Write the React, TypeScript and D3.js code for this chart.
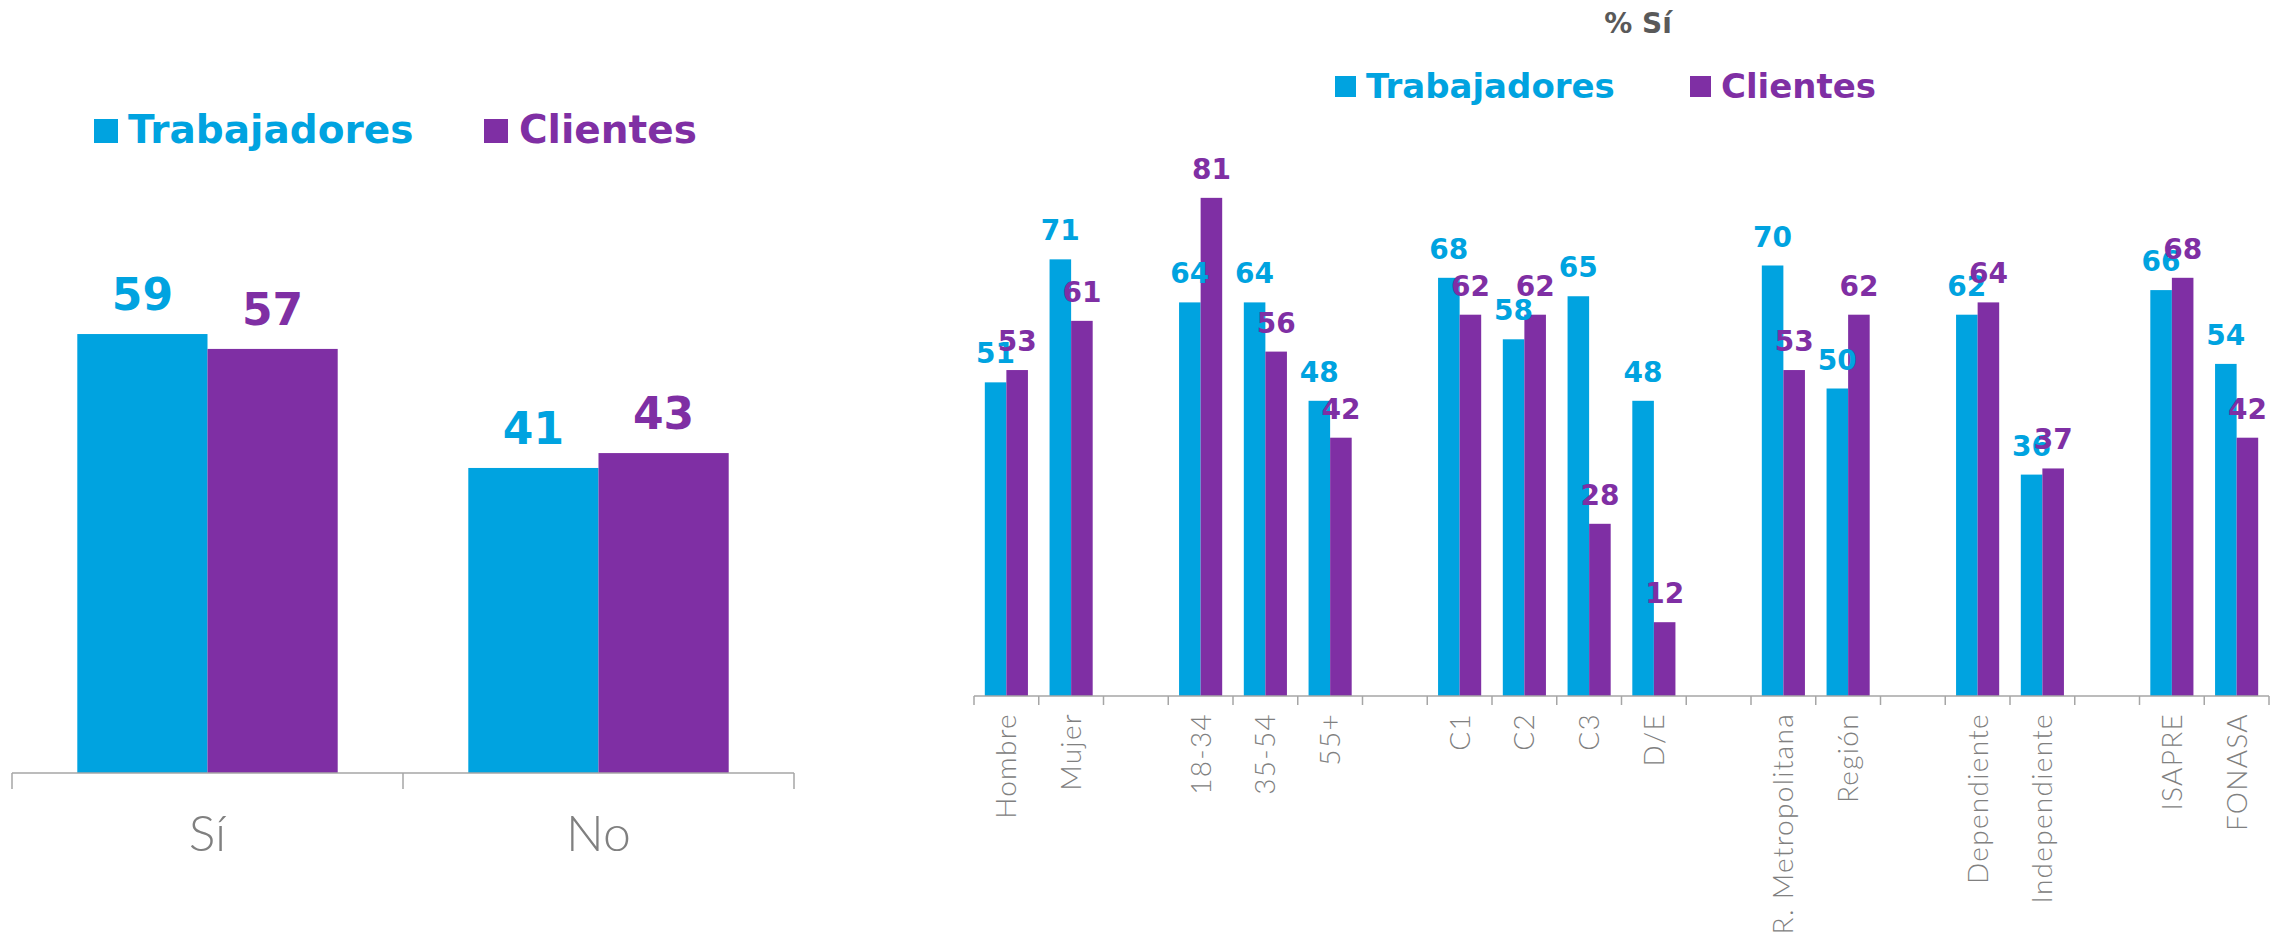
import React from "react";
import * as d3 from "d3";

const seriesNames = ["Trabajadores", "Clientes"];
const seriesColors = ["#00A3E0", "#7F2FA4"];

const leftCategories = ["Sí", "No"];
const leftTrabajadores = [59, 41];
const leftClientes = [57, 43];

const rightCategories = [
  "Hombre", "Mujer", "", "18-34", "35-54", "55+", "", "C1", "C2", "C3", "D/E", "",
  "R. Metropolitana", "Región", "", "Dependiente", "Independiente", "", "ISAPRE", "FONASA",
];
const rightTrabajadores = [51, 71, null, 64, 64, 48, null, 68, 58, 65, 48, null, 70, 50, null, 62, 36, null, 66, 54];
const rightClientes = [53, 61, null, 81, 56, 42, null, 62, 62, 28, 12, null, 53, 62, null, 64, 37, null, 68, 42];

const BOLD = "'DejaVu Sans', 'Open Sans', sans-serif";
const LIGHT = "Lato, 'Open Sans', sans-serif";
const AXIS = "#a6a6a6";
const LABEL_GRAY = "#808080";

function LeftChart() {
  const x = d3.scaleBand<number>().domain(d3.range(leftCategories.length)).range([12, 794]).padding(0);
  const x1 = d3.scaleBand<number>().domain([0, 1]).range([x.bandwidth() * 0.167, x.bandwidth() * 0.833]);
  const y = d3.scaleLinear().domain([0, 100]).range([773, 29]);
  const series = [leftTrabajadores, leftClientes];
  return (
    <g>
      <rect x={94} y={119} width={24} height={24} fill={seriesColors[0]} />
      <text x={128} y={143} fontFamily={BOLD} fontWeight="bold" fontSize={39} fill={seriesColors[0]}>{seriesNames[0]}</text>
      <rect x={484} y={119} width={24} height={24} fill={seriesColors[1]} />
      <text x={519} y={143} fontFamily={BOLD} fontWeight="bold" fontSize={39} fill={seriesColors[1]}>{seriesNames[1]}</text>
      {leftCategories.map((c, i) => (
        <g key={c}>
          {series.map((s, k) => {
            const bx = x(i)! + x1(k)!;
            return (
              <g key={k}>
                <rect x={bx} y={y(s[i])} width={x1.bandwidth()} height={y(0) - y(s[i])} fill={seriesColors[k]} />
                <text x={bx + x1.bandwidth() / 2} y={y(s[i]) - 24} textAnchor="middle" fontFamily={BOLD} fontWeight="bold" fontSize={44} fill={seriesColors[k]}>{s[i]}</text>
              </g>
            );
          })}
          <text x={x(i)! + x.bandwidth() / 2} y={851} textAnchor="middle" fontFamily={LIGHT} fontWeight={300} fontSize={50} fill={LABEL_GRAY}>{c}</text>
        </g>
      ))}
      <line x1={x.range()[0]} x2={x.range()[1]} y1={y(0)} y2={y(0)} stroke={AXIS} strokeWidth={1.5} />
      {d3.range(leftCategories.length + 1).map((i) => {
        const tx = x.range()[0] + i * x.step();
        return <line key={i} x1={tx} x2={tx} y1={y(0)} y2={y(0) + 16} stroke={AXIS} strokeWidth={1.5} />;
      })}
    </g>
  );
}

function RightChart() {
  const x = d3.scaleBand<number>().domain(d3.range(rightCategories.length)).range([974, 2269]).padding(0);
  const x1 = d3.scaleBand<number>().domain([0, 1]).range([x.bandwidth() * 0.167, x.bandwidth() * 0.833]);
  const y = d3.scaleLinear().domain([0, 100]).range([696, 81]);
  const series = [rightTrabajadores, rightClientes];
  return (
    <g>
      <text x={1638} y={33} textAnchor="middle" fontFamily={BOLD} fontWeight="bold" fontSize={28} fill="#595959">% Sí</text>
      <rect x={1335} y={76} width={21} height={21} fill={seriesColors[0]} />
      <text x={1366} y={98} fontFamily={BOLD} fontWeight="bold" fontSize={34} fill={seriesColors[0]}>{seriesNames[0]}</text>
      <rect x={1690} y={76} width={21} height={21} fill={seriesColors[1]} />
      <text x={1721} y={98} fontFamily={BOLD} fontWeight="bold" fontSize={34} fill={seriesColors[1]}>{seriesNames[1]}</text>
      {rightCategories.map((c, i) => (
        <g key={i}>
          {series.map((s, k) => {
            const v = s[i];
            if (v == null) return null;
            const bx = x(i)! + x1(k)!;
            return (
              <rect key={k} x={bx} y={y(v)} width={x1.bandwidth()} height={y(0) - y(v)} fill={seriesColors[k]} />
            );
          })}
          {c !== "" && (
            <text
              transform={`translate(${x(i)! + x.bandwidth() / 2},713) rotate(-90)`}
              textAnchor="end"
              dy="0.36em"
              fontFamily={LIGHT}
              fontWeight={300}
              fontSize={28}
              letterSpacing={1.3}
              fill={LABEL_GRAY}
            >
              {c}
            </text>
          )}
        </g>
      ))}
      {rightCategories.map((c, i) => (
        <g key={"l" + i}>
          {series.map((s, k) => {
            const v = s[i];
            if (v == null) return null;
            const bx = x(i)! + x1(k)!;
            return (
              <text key={k} x={bx + x1.bandwidth() / 2} y={y(v) - 19} textAnchor="middle" fontFamily={BOLD} fontWeight="bold" fontSize={28} fill={seriesColors[k]}>{v}</text>
            );
          })}
        </g>
      ))}
      <line x1={x.range()[0]} x2={x.range()[1]} y1={y(0)} y2={y(0)} stroke={AXIS} strokeWidth={1.5} />
      {d3.range(rightCategories.length + 1).map((i) => {
        const tx = x.range()[0] + i * x.step();
        return <line key={i} x1={tx} x2={tx} y1={y(0)} y2={y(0) + 9} stroke={AXIS} strokeWidth={1.5} />;
      })}
    </g>
  );
}

export default function App() {
  return (
    <svg
      width={2285}
      height={936}
      viewBox="0 0 2285 936"
      style={{ position: "absolute", left: 0, top: 0, display: "block", background: "#ffffff" }}
    >
      <rect x={0} y={0} width={2285} height={936} fill="#ffffff" />
      <LeftChart />
      <RightChart />
    </svg>
  );
}
